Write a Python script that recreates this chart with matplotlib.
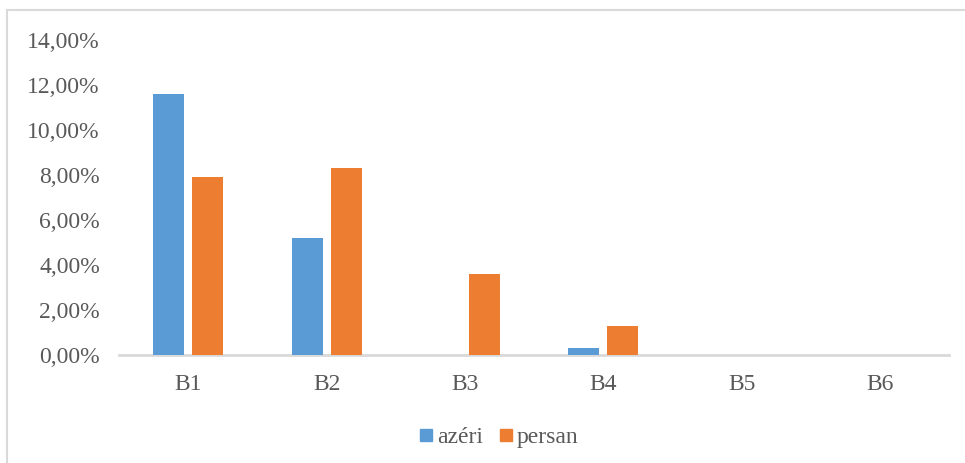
import matplotlib
matplotlib.use("Agg")
import matplotlib.pyplot as plt
from matplotlib.lines import Line2D
from matplotlib.ticker import FuncFormatter
import numpy as np

categories = ["B1", "B2", "B3", "B4", "B5", "B6"]
azeri = [11.6, 5.2, 0.0, 0.3, 0.0, 0.0]
persan = [7.9, 8.3, 3.6, 1.3, 0.0, 0.0]
series_names = ["azéri", "persan"]
yticks = [0, 2, 4, 6, 8, 10, 12, 14]

blue = "#5B9BD5"
orange = "#ED7D31"
text_gray = "#595959"
line_gray = "#D9D9D9"

plt.rcParams["font.family"] = ["Liberation Serif", "DejaVu Serif"]

W, H = 965, 463
fig = plt.figure(figsize=(W / 100, H / 100), dpi=100)
ax = fig.add_axes([119.3 / W, 1 - 355 / H, (949.2 - 119.3) / W, (355 - 40) / H])

x = np.arange(len(categories))
bw = 0.224
gap = 0.058
off = (bw + gap) / 2
ax.bar(x - off, azeri, width=bw, color=blue, label=series_names[0], zorder=3)
ax.bar(x + off, persan, width=bw, color=orange, label=series_names[1], zorder=3)

ax.set_xlim(-0.5, len(categories) - 0.5)
ax.set_ylim(0, 14)
ax.set_yticks(yticks)
ax.yaxis.set_major_formatter(FuncFormatter(lambda v, p: f"{v:.2f}".replace(".", ",") + "%"))
ax.set_xticks(x)
ax.set_xticklabels(categories)

for s in ["top", "right", "left"]:
    ax.spines[s].set_visible(False)
ax.spines["bottom"].set_color(line_gray)
ax.spines["bottom"].set_linewidth(2)
ax.tick_params(axis="both", length=0, colors=text_gray, labelsize=17)
ax.tick_params(axis="y", pad=14)
ax.tick_params(axis="x", pad=14)

handles = [
    Line2D([], [], marker="s", linestyle="none", markersize=8, color=blue, label=series_names[0]),
    Line2D([], [], marker="s", linestyle="none", markersize=8, color=orange, label=series_names[1]),
]
leg = fig.legend(handles=handles, loc="center", bbox_to_anchor=(498 / W, 1 - 437 / H),
                 ncol=2, frameon=False, fontsize=17, handletextpad=0.1, columnspacing=0.6,
                 handlelength=0.7)
for t in leg.get_texts():
    t.set_color(text_gray)

# outer chart border (top and left edges)
fig.add_artist(Line2D([7 / W, 1.0], [1 - 10 / H, 1 - 10 / H], color=line_gray, linewidth=1.5,
                      transform=fig.transFigure))
fig.add_artist(Line2D([7 / W, 7 / W], [0.0, 1 - 10 / H], color=line_gray, linewidth=1.5,
                      transform=fig.transFigure))

fig.savefig("out.png", dpi=100, facecolor="white")
